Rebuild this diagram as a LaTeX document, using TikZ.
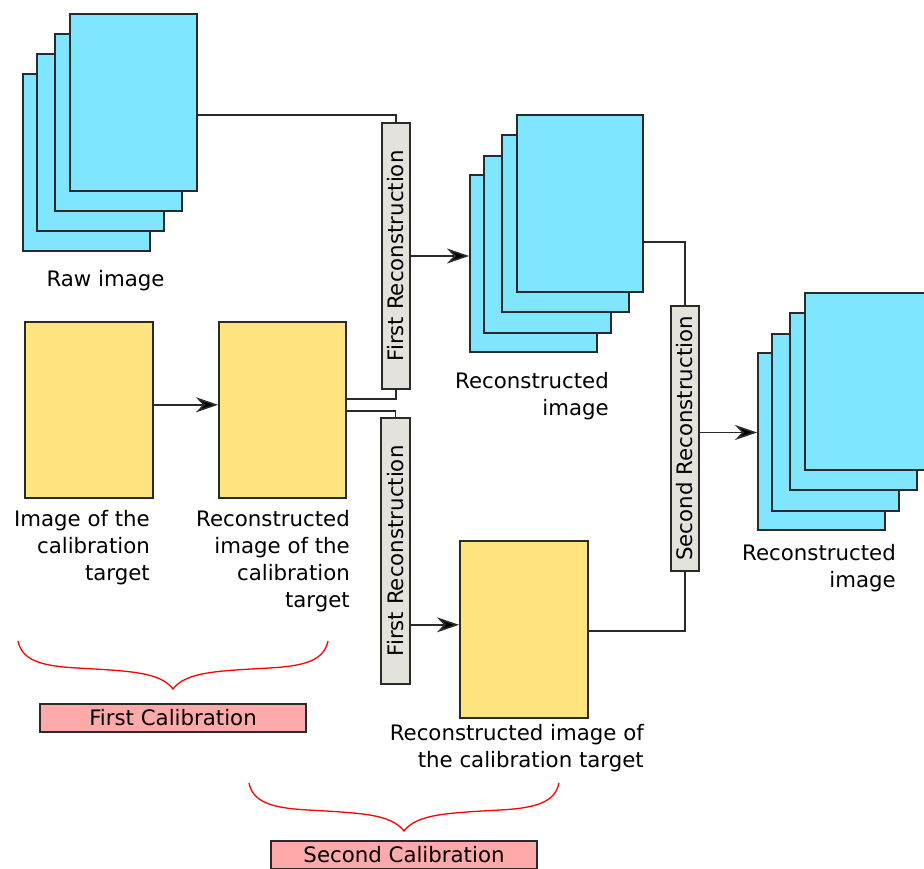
\documentclass[tikz,border=0pt]{standalone}
\usepackage{fontspec}
\setmainfont{DejaVu Sans}
\usepackage{graphicx}
\usetikzlibrary{arrows.meta,calc}

\definecolor{sheetblue}{HTML}{80E5FF}
\definecolor{calyellow}{HTML}{FFE480}
\definecolor{procgrey}{HTML}{E3E2DB}
\definecolor{calpink}{HTML}{FFAAAA}
\definecolor{edge}{HTML}{2A2A2A}

\tikzset{
  sheet/.style={draw=edge, line width=1.6pt, fill=sheetblue, anchor=north west,
    minimum width=127pt, minimum height=177pt, inner sep=0pt},
  target/.style={draw=edge, line width=1.6pt, fill=calyellow, anchor=north west,
    minimum height=176pt, inner sep=0pt},
  procbox/.style={draw=edge, line width=1.6pt, fill=procgrey, inner sep=0pt,
    minimum width=28pt, minimum height=266pt},
  stagebox/.style={draw=edge, line width=1.6pt, fill=calpink, inner sep=0pt,
    minimum width=266pt, minimum height=28pt},
  conn/.style={draw=edge, line width=1.6pt},
  arr/.style={conn, -{Stealth[length=22pt, width=15pt, inset=7pt, fill=black]}},
  lbl/.style={inner sep=0pt, align=right, anchor=north east},
  bracestyle/.style={draw=red, line width=1.3pt},
  calbrace/.pic={
    \path[bracestyle] (0,0) .. controls (4,19) and (22,25) .. (59,27)
      .. controls (112,30) and (142,31) .. (155,48)
      .. controls (168,31) and (198,30) .. (251,27)
      .. controls (288,25) and (306,19) .. (310,0);
  }
}

\begin{document}
\begin{tikzpicture}[x=1pt, y=-1pt, font=\fontsize{21.3}{27}\selectfont]
\clip (0,0) rectangle (924,869);

% raw image stack
\node[sheet] (r1) at (22,73) {};
\node[sheet] (r2) at (36,53) {};
\node[sheet] (r3) at (54,33) {};
\node[sheet] (r4) at (69,13) {};
\node[anchor=base, inner sep=0pt] (rawlbl) at (105.5,287) {Raw image};

% calibration target images
\node[target, minimum width=128pt] (y1) at (24,321) {};
\node[target, minimum width=127pt] (y2) at (218,321) {};
\node[target, minimum width=128pt, minimum height=177pt] (y3) at (459,540) {};
\node[lbl] (y1lbl) at (150,510) {Image of the\\calibration\\target};
\node[lbl] (y2lbl) at (350,510) {Reconstructed\\image of the\\calibration\\target};
\node[lbl] (y3lbl) at (644,724) {Reconstructed image of\\the calibration target};

% reconstruction steps
\node[procbox] (fr1) at (396,256) {\rotatebox{90}{First Reconstruction}};
\node[procbox, minimum width=29pt] (fr2) at (395.5,551) {\rotatebox{90}{First Reconstruction}};
\node[procbox, minimum height=265pt] (sr) at (685,438.5) {\rotatebox{90}{Second Reconstruction}};

% first reconstructed stack
\node[sheet] (s1) at (469,174) {};
\node[sheet] (s2) at (483,155) {};
\node[sheet] (s3) at (501,134) {};
\node[sheet, minimum width=126pt] (s4) at (516,114) {};
\node[lbl] (s4lbl) at (609,372) {Reconstructed\\image};

% second reconstructed stack
\node[sheet] (t1) at (757,352) {};
\node[sheet] (t2) at (771,333) {};
\node[sheet] (t3) at (789,312) {};
\node[sheet] (t4) at (804,292) {};
\node[lbl] (t4lbl) at (896,544) {Reconstructed\\image};

% connectors
\draw[conn] ($(r4.north east)+(0,102)$) -| (fr1.north);
\draw[arr] (fr1.east) -- (fr1.east -| s1.west);

\coordinate (ya) at ($(y1.east)+(0,-5)$);
\draw[arr] (ya) -- (ya -| y2.west);

\coordinate (yb) at ($(y2.east)+(0,-11)$);
\draw[conn] (yb) -| (fr1.south);
\coordinate (yc) at ($(y2.east)+(0,1)$);
\draw[conn] (yc) -| (fr2.north);

\coordinate (fa) at ($(y3.west)+(0,-4.5)$);
\draw[arr] (fa -| fr2.east) -- (fa);

\draw[conn] ($(s4.north east)+(0,128)$) -| (sr.north);
\coordinate (yd) at ($(y3.east)+(0,1.5)$);
\draw[conn] (yd) -| (sr.south);

\coordinate (sa) at ($(sr.east)+(0,-6)$);
\draw[arr] (sa) -- (sa -| t1.west);

% calibration stages
\pic at (18,641) {calbrace};
\pic at (249,783) {calbrace};
\node[stagebox] (cal1) at (173,718) {First Calibration};
\node[stagebox] (cal2) at (404,855) {Second Calibration};
\end{tikzpicture}
\end{document}
